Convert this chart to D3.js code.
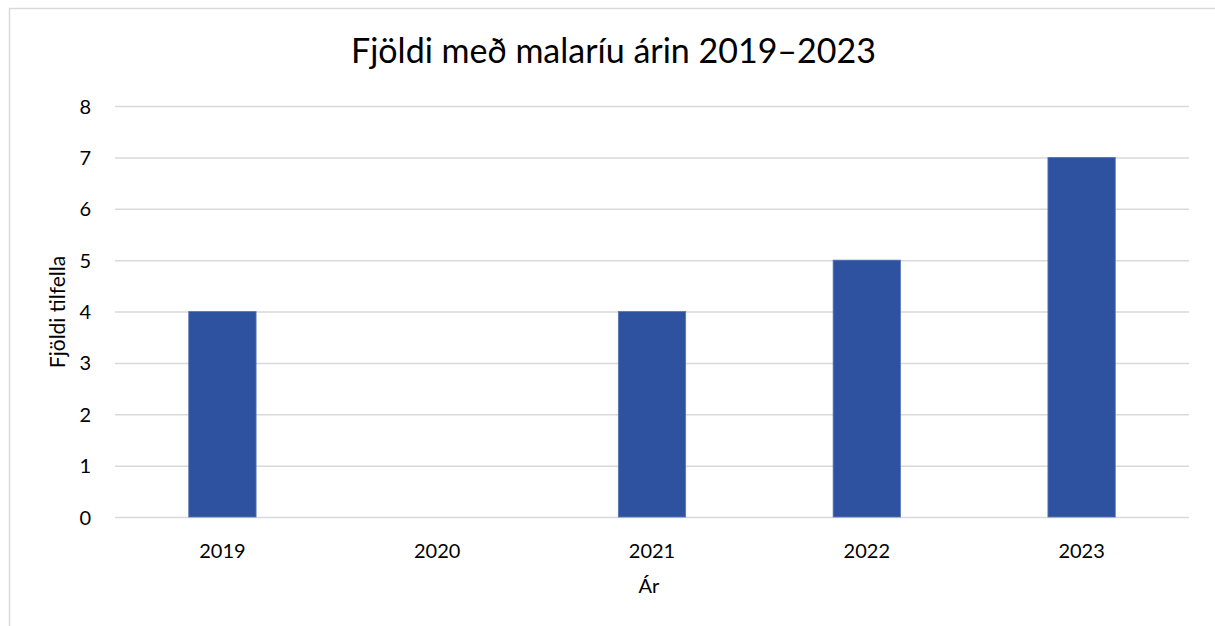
<!DOCTYPE html>
<html><head><meta charset="utf-8">
<script src="https://cdn.jsdelivr.net/npm/d3@7"></script>
<style>html,body{margin:0;padding:0;background:#fff;}svg{display:block;}</style>
</head><body>
<svg id="c" width="1215" height="626"></svg>
<script>
const categories = ["2019","2020","2021","2022","2023"];
const values = [4, 0, 4, 5, 7];
const yTicks = [0,1,2,3,4,5,6,7,8];
const title = "Fjöldi með malaríu árin 2019–2023";
const xTitle = "Ár";
const yTitle = "Fjöldi tilfella";

(function(){
const FONT = "Lato, 'Open Sans', sans-serif";
const svg = d3.select("#c");
svg.append("rect").attr("x",9.5).attr("y",8.5).attr("width",1230).attr("height",640)
  .attr("fill","#fff").attr("stroke","#d9d9d9").attr("stroke-width",1.5);

const pl = 115, pr = 1189, pt = 106, pb = 517;
const x = d3.scaleBand().domain(categories).range([pl,pr]).paddingInner(0.6865).paddingOuter(0.3433);
const y = d3.scaleLinear().domain([0,8]).range([pb,pt]);

const gy = svg.append("g").attr("transform",`translate(${pl},0)`)
  .call(d3.axisLeft(y).tickValues(yTicks).tickSize(-(pr-pl)).tickFormat(""));
gy.select(".domain").remove();
gy.selectAll(".tick line").attr("stroke","#d9d9d9").attr("stroke-width",1.5);

const ya = svg.append("g").attr("transform",`translate(${pl},0)`)
  .call(d3.axisLeft(y).tickValues(yTicks).tickSize(0).tickPadding(24).tickFormat(d3.format("d")));
ya.select(".domain").remove();
ya.selectAll("text").attr("font-family",FONT).attr("font-size",20).attr("fill","#000").attr("dy","0.35em");

svg.append("g").selectAll("rect").data(values).join("rect")
  .attr("x",(d,i)=>x(categories[i]))
  .attr("width",x.bandwidth())
  .attr("y",d=>y(d))
  .attr("height",d=>y(0)-y(d))
  .attr("fill","#2e52a0")
  .attr("stroke","#5676b8").attr("stroke-width",d=>d>0?0.8:0);

const xa = svg.append("g").attr("transform",`translate(0,${pb})`)
  .call(d3.axisBottom(x).tickSize(0).tickPadding(0));
xa.select(".domain").remove();
xa.selectAll("text").attr("font-family",FONT).attr("font-size",20).attr("fill","#000")
  .attr("dy",null).attr("y",41);

svg.append("text").attr("x",613.5).attr("y",63).attr("text-anchor","middle")
  .attr("font-family",FONT).attr("font-size",34).attr("fill","#000").text(title);
svg.append("text").attr("x",649).attr("y",593).attr("text-anchor","middle")
  .attr("font-family",FONT).attr("font-size",20).attr("fill","#000").text(xTitle);
svg.append("text").attr("transform","translate(65,312) rotate(-90)").attr("text-anchor","middle")
  .attr("font-family",FONT).attr("font-size",21).attr("fill","#000").text(yTitle);
})();
</script>
</body></html>
